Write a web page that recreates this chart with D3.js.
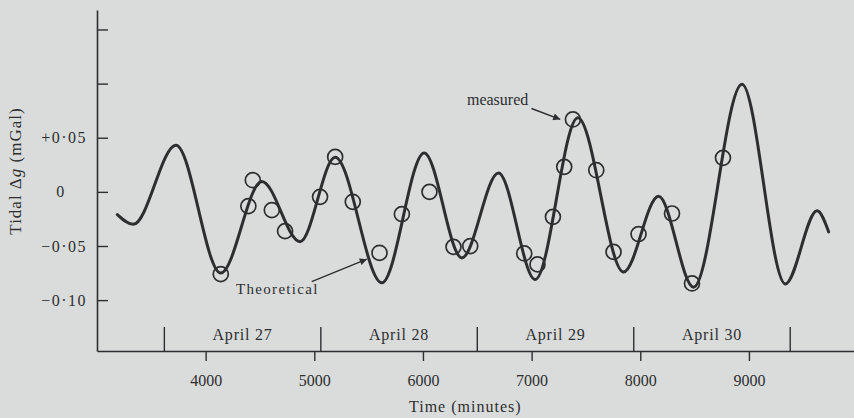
<!DOCTYPE html>
<html>
<head>
<meta charset="utf-8">
<script src="https://cdn.jsdelivr.net/npm/d3@7"></script>
<style>
  html, body { margin: 0; padding: 0; background: #d9dcdb; }
  svg { display: block; }
  text { font-family: "Liberation Serif", "DejaVu Serif", serif; fill: #2e2e30; }
</style>
</head>
<body>
<svg id="chart" width="854" height="418"></svg>
<script>
// ---- Data ----
// Theoretical tidal curve (time in minutes, Δg in mGal), read at its turning points
const theoTime  = [3187, 3334, 3727, 4139, 4517, 4869, 5192, 5622, 6011, 6358, 6695, 7033, 7425, 7846, 8168, 8491, 8936, 9335, 9627, 9734];
const theoValue = [-0.021, -0.030, 0.043, -0.075, 0.0096, -0.046, 0.032, -0.084, 0.036, -0.061, 0.0175, -0.081, 0.0685, -0.074, -0.004, -0.088, 0.0994, -0.085, -0.0175, -0.037];
// Measured values (circles)
const measTime  = [4139, 4393, 4434, 4609, 4731, 5053, 5192, 5354, 5600, 5806, 6060, 6281, 6435, 6932, 7054, 7196, 7300, 7380, 7595, 7754, 7984, 8292, 8476, 8761];
const measValue = [-0.076, -0.0132, 0.0108, -0.0169, -0.0363, -0.0046, 0.0323, -0.0092, -0.0563, -0.0206, 0.0, -0.0508, -0.0501, -0.0569, -0.067, -0.0231, 0.0231, 0.0669, 0.020, -0.0554, -0.039, -0.020, -0.0846, 0.0314];
// Axis ticks
const xTicks = [4000, 5000, 6000, 7000, 8000, 9000];
const yTicks = [-0.10, -0.05, 0, 0.05, 0.10, 0.15];
const yTickLabels = ["\u22120\u00B710", "\u22120\u00B705", "0", "+0\u00B705", "", ""];
// Day boundaries (minutes) and day names
const dayBounds = [3620, 5060, 6500, 7940, 9380];
const dayLabels = ["April 27", "April 28", "April 29", "April 30"];

// ---- Scales ----
const svg = d3.select("#chart");
const x = d3.scaleLinear().domain([3000, 9967]).range([97, 854]);
const y = d3.scaleLinear().domain([-0.147, 0.168]).range([351, 10]);
const axisY = y.range()[0];
const axisX = x.range()[0];
const ink = "#2e2e30";

// arrow marker
svg.append("defs").append("marker")
  .attr("id", "arrow").attr("viewBox", "0 0 10 10")
  .attr("refX", 10).attr("refY", 5)
  .attr("markerWidth", 9).attr("markerHeight", 7)
  .attr("markerUnits", "userSpaceOnUse")
  .attr("orient", "auto")
  .append("path").attr("d", "M0,0 L10,5 L0,10 Z").attr("fill", ink);

// ---- Axes ----
const gx = svg.append("g").attr("transform", `translate(0,${axisY})`)
  .call(d3.axisBottom(x).tickValues(xTicks).tickSize(10).tickSizeOuter(0).tickPadding(14).tickFormat(d3.format("d")));
const gy = svg.append("g").attr("transform", `translate(${axisX},0)`)
  .call(d3.axisLeft(y).tickValues(yTicks).tickSize(-11).tickSizeOuter(0).tickPadding(10)
    .tickFormat((d, i) => yTickLabels[i]));

[gx, gy].forEach(g => {
  g.select(".domain").attr("stroke", ink).attr("stroke-width", 1.6);
  g.selectAll(".tick line").attr("stroke", ink).attr("stroke-width", 1.4);
  g.selectAll(".tick text").attr("font-family", "Liberation Serif").attr("font-size", 16).attr("fill", ink);
});
gy.selectAll(".tick text").attr("letter-spacing", 1.5)
  .filter(d => d === 0).attr("text-anchor", "middle").attr("dx", -26);

// day separators
svg.append("g").selectAll("line").data(dayBounds).join("line")
  .attr("x1", d => x(d)).attr("x2", d => x(d))
  .attr("y1", axisY).attr("y2", axisY - 24)
  .attr("stroke", ink).attr("stroke-width", 1.4);
svg.append("g").selectAll("text").data(dayLabels).join("text")
  .attr("x", (d, i) => (x(dayBounds[i]) + x(dayBounds[i + 1])) / 2)
  .attr("y", axisY - 11)
  .attr("text-anchor", "middle")
  .attr("font-size", 16).attr("letter-spacing", 0.8)
  .text(d => d);

// axis titles
svg.append("text")
  .attr("x", (x(6000) + x(7000)) / 2 - 12).attr("y", 412)
  .attr("text-anchor", "middle").attr("font-size", 16).attr("letter-spacing", 1)
  .text("Time (minutes)");
svg.append("text")
  .attr("transform", `translate(21,171) rotate(-90)`)
  .attr("text-anchor", "middle").attr("font-size", 17).attr("letter-spacing", 1)
  .html('Tidal \u0394<tspan font-style="italic">g</tspan> (mGal)');

// ---- Theoretical curve ----
const theo = theoTime.map((t, i) => [t, theoValue[i]]);
svg.append("path").datum(theo)
  .attr("fill", "none").attr("stroke", ink).attr("stroke-width", 3)
  .attr("stroke-linejoin", "round").attr("stroke-linecap", "round")
  .attr("d", d3.line().x(d => x(d[0])).y(d => y(d[1])).curve(d3.curveMonotoneX));

// ---- Measured circles ----
svg.append("g").selectAll("circle").data(measTime.map((t, i) => [t, measValue[i]])).join("circle")
  .attr("cx", d => x(d[0])).attr("cy", d => y(d[1])).attr("r", 7.5)
  .attr("fill", "none").attr("stroke", ink).attr("stroke-width", 1.7);

// ---- Annotations ----
svg.append("text").attr("x", x(6969)).attr("y", y(0.080))
  .attr("text-anchor", "end").attr("font-size", 16).text("measured");
svg.append("line")
  .attr("x1", x(6999)).attr("y1", y(0.077)).attr("x2", x(7263)).attr("y2", y(0.067))
  .attr("stroke", ink).attr("stroke-width", 1.5).attr("marker-end", "url(#arrow)");
svg.append("text").attr("x", x(4280)).attr("y", y(-0.0943))
  .attr("font-size", 15).attr("letter-spacing", 1.3).text("Theoretical");
svg.append("line")
  .attr("x1", x(4976)).attr("y1", y(-0.0829)).attr("x2", x(5483)).attr("y2", y(-0.0622))
  .attr("stroke", ink).attr("stroke-width", 1.3).attr("marker-end", "url(#arrow)");
</script>
</body>
</html>
